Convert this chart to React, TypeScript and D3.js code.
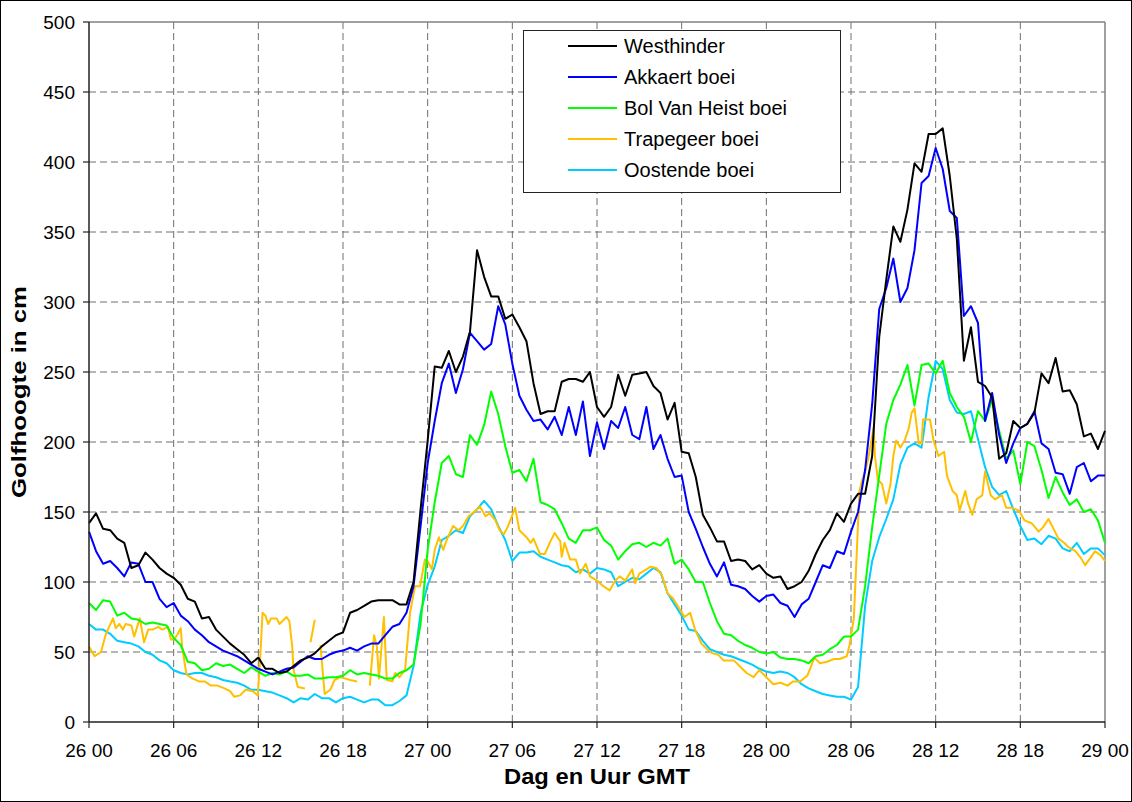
import * as d3 from 'd3';

// golfhoogte per half uur, 26 00 -> 29 00 (145 waarden)
const westhinder = [
  142, 149, 138, 137, 131, 128, 110, 112, 121, 116, 110, 106,
  103, 98, 88, 86, 74, 75, 66, 61, 56, 52, 48, 42,
  46, 38, 38, 35, 36, 40, 44, 46, 49, 54, 58, 62,
  64, 78, 80, 83, 86, 87, 87, 87, 84, 84, 100, 152,
  201, 254, 253, 265, 250, 261, 279, 337, 318, 304, 304, 288,
  291, 282, 272, 242, 220, 222, 222, 243, 245, 245, 243, 250,
  225, 218, 225, 248, 233, 248, 249, 250, 240, 235, 216, 228,
  193, 192, 175, 148, 139, 129, 129, 115, 116, 115, 109, 112,
  106, 103, 104, 95, 97, 100, 108, 120, 130, 137, 149, 143,
  156, 163, 163, 190, 275, 316, 354, 343, 366, 399, 393, 420,
  420, 424, 390, 345, 258, 282, 243, 240, 232, 188, 192, 215,
  210, 213, 221, 249, 242, 260, 236, 237, 227, 204, 206, 195,
  208,
];

const akkaert = [
  136, 122, 113, 115, 110, 104, 114, 113, 100, 100, 88, 82,
  85, 76, 72, 66, 62, 57, 54, 51, 49, 47, 44, 41,
  38, 36, 34, 36, 38, 39, 43, 47, 45, 45, 48, 50,
  51, 53, 51, 54, 56, 56, 62, 68, 70, 78, 97, 140,
  185, 215, 242, 256, 235, 252, 278, 272, 266, 270, 297, 284,
  256, 233, 223, 215, 216, 209, 218, 205, 225, 205, 229, 190,
  214, 195, 215, 210, 225, 205, 202, 225, 195, 205, 188, 175,
  176, 150, 138, 125, 113, 104, 114, 98, 97, 95, 90, 86,
  90, 91, 85, 83, 75, 84, 88, 100, 112, 110, 122, 120,
  136, 150, 180, 227, 295, 310, 331, 300, 310, 337, 385, 390,
  410, 395, 365, 360, 290, 297, 285, 215, 235, 205, 185, 199,
  210, 213, 222, 199, 195, 178, 177, 163, 182, 185, 172, 176,
  176,
];

const bolVanHeist = [
  85, 80, 87, 86, 76, 78, 74, 73, 70, 71, 70, 69,
  60, 55, 43, 42, 37, 38, 42, 40, 41, 38, 35, 39,
  36, 33, 35, 34, 36, 33, 33, 34, 31, 31, 32, 32,
  33, 37, 34, 35, 34, 33, 31, 31, 35, 37, 41, 70,
  123, 157, 185, 190, 177, 175, 205, 198, 212, 236, 220, 197,
  178, 180, 172, 188, 157, 155, 152, 142, 131, 128, 137, 137,
  139, 130, 126, 116, 122, 127, 128, 125, 128, 126, 131, 113,
  116, 109, 100, 100, 85, 72, 63, 62, 58, 55, 53, 50,
  49, 50, 46, 45, 45, 44, 42, 47, 48, 52, 55, 61,
  61, 66, 97, 139, 176, 213, 230, 241, 255, 226, 255, 256,
  249, 258, 235, 225, 218, 200, 222, 215, 230, 208, 188, 194,
  170, 200, 197, 180, 160, 175, 164, 155, 159, 150, 152, 144,
  128,
];

const oostende = [
  70, 66, 66, 63, 58, 57, 56, 54, 50, 48, 44, 42,
  37, 35, 34, 35, 35, 33, 32, 30, 29, 28, 26, 23,
  23, 22, 21, 19, 17, 14, 17, 16, 20, 17, 17, 14,
  17, 18, 16, 14, 16, 16, 12, 12, 15, 19, 40, 78,
  98, 111, 130, 133, 137, 135, 147, 152, 158, 152, 140, 130,
  115, 121, 121, 122, 118, 116, 114, 112, 111, 107, 109, 106,
  110, 109, 107, 97, 100, 103, 102, 106, 110, 107, 92, 84,
  76, 66, 65, 58, 52, 50, 48, 47, 45, 43, 41, 38,
  36, 35, 36, 35, 32, 27, 24, 22, 20, 19, 18, 18,
  16, 25, 83, 115, 132, 145, 159, 184, 196, 199, 196, 232,
  258, 252, 230, 221, 220, 222, 202, 182, 168, 162, 165, 152,
  140, 130, 131, 127, 133, 131, 124, 122, 128, 120, 124, 124,
  119,
];

// Trapegeer heeft gaten: [uur sinds 26 00, waarde] (null = geen meting)
const trapegeer: [number, number | null][] = [
  [0, 54], [0.4, 47], [0.85, 50], [1.2, 63], [1.7, 74], [1.9, 67], [2.15, 70], [2.4, 66],
  [2.6, 70], [3.0, 69], [3.2, 61], [3.6, 74], [3.9, 57], [4.2, 66], [4.5, 66], [4.9, 68],
  [5.2, 66], [5.6, 68], [5.8, 59], [6.05, 59], [6.3, 63], [6.5, 67], [6.6, 54], [6.9, 34],
  [7.35, 31], [7.8, 29], [8.2, 29], [8.65, 26], [9.1, 26], [9.6, 24], [10.0, 22], [10.3, 18],
  [10.7, 19], [11.1, 23], [11.6, 22], [11.96, 19], [12.1, 40], [12.3, 78], [12.5, 76], [12.7, 70],
  [12.9, 74], [13.3, 74], [13.5, 70], [14.0, 75], [14.2, 72], [14.4, 54], [14.5, 37], [14.8, 25],
  [15.3, 24], [15.5, null], [15.7, 57], [16.0, 73], [16.2, null], [16.4, 55], [16.7, 20], [17.1, 23],
  [17.4, 30], [17.8, 32], [18.2, 31], [18.5, 30], [19.0, 29], [19.4, null], [19.9, 26], [20.2, 62],
  [20.4, 54], [20.55, 31], [20.9, 75], [21.1, 30], [21.5, 29], [21.7, 35], [22.0, 32], [22.4, 37],
  [22.75, 78], [23.1, 97], [23.46, 97], [23.8, 116], [24.0, 115], [24.3, 109], [24.5, 123], [24.8, 132],
  [25.1, 123], [25.35, 130], [25.8, 140], [26.2, 137], [26.5, 140], [26.9, 147], [27.4, 151], [27.7, 154],
  [28.1, 147], [28.4, 149], [28.8, 144], [29.1, 137], [29.4, 134], [29.7, 140], [30.2, 153], [30.5, 137],
  [31.0, 132], [31.3, 128], [31.5, 131], [31.96, 120], [32.3, 120], [32.7, 129], [33.0, 135], [33.4, 129],
  [33.5, 118], [33.7, 128], [34.1, 116], [34.5, 116], [34.8, 106], [35.2, 113], [35.5, 104], [36.0, 101],
  [36.45, 97], [36.9, 94], [37.3, 101], [37.6, 104], [38.0, 101], [38.5, 109], [38.7, 99], [39.0, 106],
  [39.5, 109], [39.8, 111], [40.2, 110], [40.6, 105], [41.0, 92], [41.4, 88], [41.9, 80], [42.2, 75],
  [42.6, 78], [42.95, 66], [43.4, 56], [43.9, 51], [44.2, 49], [44.6, 48], [44.96, 44], [45.7, 44],
  [46.1, 40], [46.6, 35], [47.1, 32], [47.5, 37], [48.0, 32], [48.5, 27], [49.0, 28], [49.5, 26],
  [49.9, 29], [50.4, 29], [50.9, 33], [51.1, 38], [51.4, 46], [51.8, 42], [52.3, 43], [52.8, 45],
  [53.2, 45], [53.7, 47], [53.9, 55], [54.2, 74], [54.4, 119], [54.6, 165], [54.8, 173], [55.0, 179],
  [55.2, 187], [55.6, 210], [55.7, 190], [55.9, 173], [56.2, 170], [56.5, 156], [56.8, 170], [57.0, 190],
  [57.2, 201], [57.5, 196], [57.8, 201], [58.1, 210], [58.3, 221], [58.5, 224], [58.8, 199], [59.0, 199],
  [59.1, 216], [59.6, 216], [59.85, 201], [60.2, 190], [60.6, 193], [60.8, 176], [61.2, 165], [61.5, 162],
  [61.7, 151], [62.1, 165], [62.3, 156], [62.6, 148], [62.9, 159], [63.3, 162], [63.5, 179], [63.9, 162],
  [64.2, 159], [64.7, 162], [65.0, 153], [65.4, 153], [65.9, 151], [66.3, 144], [66.8, 142], [67.3, 136],
  [67.6, 139], [68.0, 145], [68.3, 139], [68.7, 131], [69.1, 128], [69.4, 125], [69.9, 122], [70.3, 117],
  [70.6, 112], [70.95, 117], [71.3, 122], [71.7, 119], [72.0, 115],
];

const xTickLabels = ['26 00', '26 06', '26 12', '26 18', '27 00', '27 06', '27 12', '27 18', '28 00', '28 06', '28 12', '28 18', '29 00'];
const yTickValues = [0, 50, 100, 150, 200, 250, 300, 350, 400, 450, 500];

const legendNames = ['Westhinder', 'Akkaert boei', 'Bol Van Heist boei', 'Trapegeer boei', 'Oostende boei'];
const legendColors = ['#000000', '#0000ff', '#00ff00', '#ffc000', '#00ccff'];

const W = 1132;
const H = 802;
const PLOT = { left: 89, right: 1105, top: 22, bottom: 722 };
const FONT = '"Liberation Sans", Arial, sans-serif';
const GRID = '#6e6e6e';

export default function App() {
  const x = d3.scaleLinear().domain([0, 72]).range([PLOT.left, PLOT.right]);
  const y = d3.scaleLinear().domain([0, 500]).range([PLOT.bottom, PLOT.top]);

  const halfHourly = (vals: number[]) => vals.map((v, i) => [i * 0.5, v] as [number, number | null]);

  const line = d3.line<[number, number | null]>()
    .defined(d => d[1] != null)
    .x(d => x(d[0]))
    .y(d => y(d[1] as number));

  const series = [
    { name: legendNames[0], color: legendColors[0], pts: halfHourly(westhinder) },
    { name: legendNames[1], color: legendColors[1], pts: halfHourly(akkaert) },
    { name: legendNames[2], color: legendColors[2], pts: halfHourly(bolVanHeist) },
    { name: legendNames[3], color: legendColors[3], pts: trapegeer },
    { name: legendNames[4], color: legendColors[4], pts: halfHourly(oostende) },
  ];
  // oostende/trapegeer onderaan, westhinder bovenop
  const drawOrder = [4, 3, 2, 1, 0];

  const xTicks = xTickLabels.map((_, i) => i * 6);

  return (
    <div style={{ position: 'absolute', left: 0, top: 0 }}>
      <svg width={W} height={H} style={{ display: 'block', fontFamily: FONT }}>
        <rect x={0.5} y={0.5} width={W - 1} height={H - 1} fill="#fff" stroke="#000" />

        {/* grid */}
        {yTickValues.filter(v => v > 0 && v < 500).map(v => (
          <line key={'gy' + v} x1={PLOT.left} x2={PLOT.right} y1={y(v)} y2={y(v)}
            stroke={GRID} strokeWidth={1} strokeDasharray="7,4" />
        ))}
        {xTicks.filter(t => t > 0 && t < 72).map(t => (
          <line key={'gx' + t} x1={x(t)} x2={x(t)} y1={PLOT.top} y2={PLOT.bottom}
            stroke={GRID} strokeWidth={1} strokeDasharray="7,4" />
        ))}
        <line x1={PLOT.left} x2={PLOT.right} y1={PLOT.top} y2={PLOT.top} stroke="#808080" strokeWidth={1.5} />
        <line x1={PLOT.right} x2={PLOT.right} y1={PLOT.top} y2={PLOT.bottom} stroke="#808080" strokeWidth={1.5} />

        {/* series */}
        <g fill="none" strokeWidth={2} strokeLinejoin="round">
          {drawOrder.map(i => (
            <path key={series[i].name} d={line(series[i].pts) || ''} stroke={series[i].color} />
          ))}
        </g>

        {/* axes */}
        <line x1={PLOT.left} x2={PLOT.left} y1={PLOT.top} y2={PLOT.bottom} stroke="#222" strokeWidth={1.5} />
        <line x1={PLOT.left} x2={PLOT.right} y1={PLOT.bottom} y2={PLOT.bottom} stroke="#222" strokeWidth={1.5} />
        {yTickValues.map(v => (
          <g key={'ty' + v}>
            <line x1={PLOT.left - 6} x2={PLOT.left} y1={y(v)} y2={y(v)} stroke="#222" strokeWidth={1.2} />
            <text x={75} y={y(v) + 6.5} textAnchor="end" fontSize={19} fill="#000">{v}</text>
          </g>
        ))}
        {xTicks.map((t, i) => (
          <g key={'tx' + t}>
            <line x1={x(t)} x2={x(t)} y1={PLOT.bottom} y2={PLOT.bottom + 6} stroke="#222" strokeWidth={1.2} />
            <text x={x(t)} y={757} textAnchor="middle" fontSize={19} fill="#000">{xTickLabels[i]}</text>
          </g>
        ))}

        <text x={(PLOT.left + PLOT.right) / 2} y={784} textAnchor="middle" fontSize={22} fontWeight="bold"
          textLength={186} lengthAdjust="spacingAndGlyphs">Dag en Uur GMT</text>
        <text transform={`translate(26, 392) rotate(-90)`} textAnchor="middle"
          fontSize={20} fontWeight="bold" textLength={212} lengthAdjust="spacingAndGlyphs">Golfhoogte in cm</text>

        {/* legend */}
        <g>
          <rect x={523.5} y={30.5} width={317} height={162} fill="#fff" stroke="#222" strokeWidth={1} />
          {legendNames.map((n, i) => {
            const cy = 46 + i * 31;
            return (
              <g key={n}>
                <line x1={568} x2={617} y1={cy} y2={cy} stroke={legendColors[i]} strokeWidth={2} />
                <text x={624} y={cy + 7} fontSize={20} fill="#000">{n}</text>
              </g>
            );
          })}
        </g>
      </svg>
    </div>
  );
}
